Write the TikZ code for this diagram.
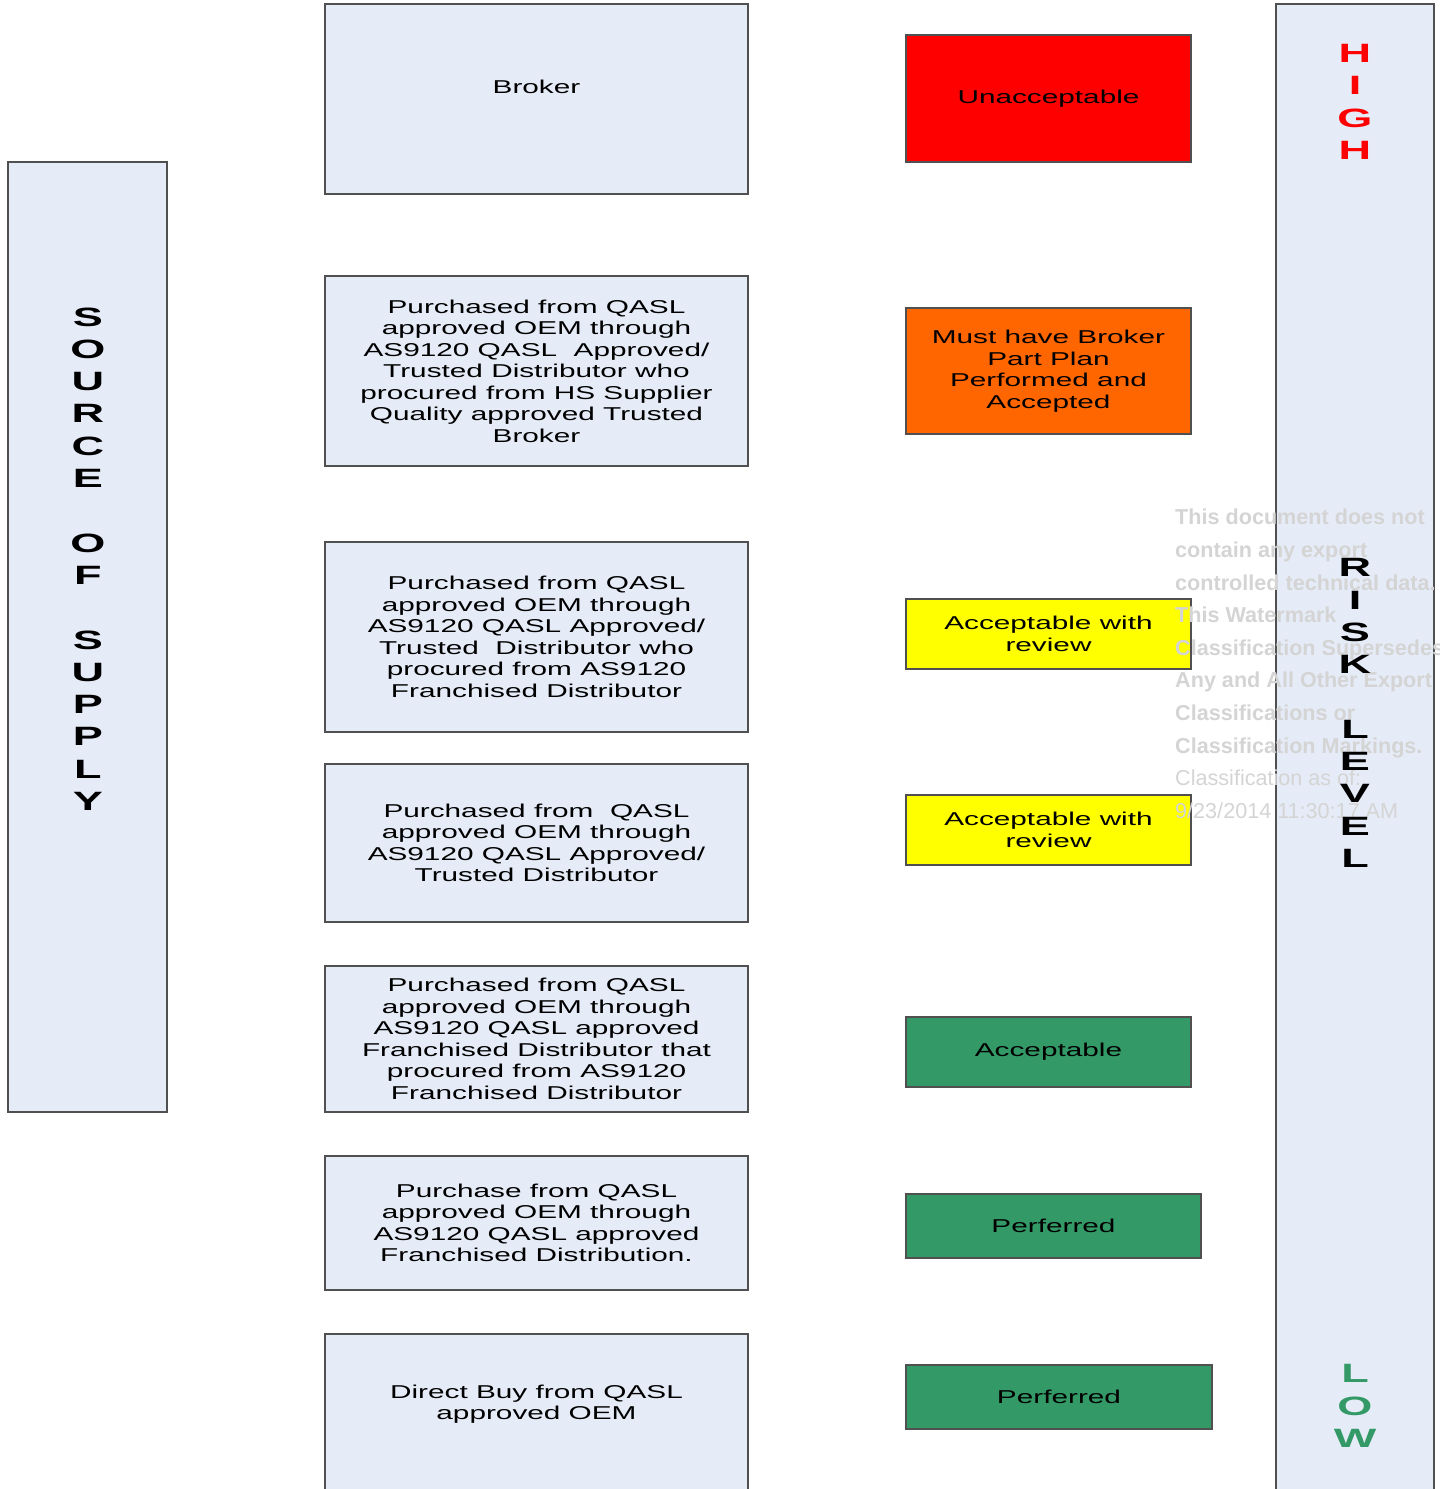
\documentclass[tikz,border=0pt]{standalone}
\usepackage{fontspec}
\setmainfont{Liberation Sans}[FakeStretch=1.6]
\newfontfamily\wmfont{Liberation Sans}
\newfontfamily\tallfont{Liberation Sans}[FakeStretch=1.7]

\definecolor{boxfill}{RGB}{230,236,247}
\definecolor{boxline}{RGB}{80,80,80}
\definecolor{riskred}{RGB}{255,0,0}
\definecolor{riskorange}{RGB}{255,102,0}
\definecolor{riskyellow}{RGB}{255,255,0}
\definecolor{riskgreen}{RGB}{51,153,102}
\definecolor{wmgray}{RGB}{212,212,212}

\tikzset{
  panel/.style={draw=boxline, fill=boxfill, line width=1.2pt, inner sep=0pt},
  sourcebox/.style={panel, minimum width=423pt, align=center,
    font=\fontsize{18.6pt}{21.5pt}\selectfont},
  ratingbox/.style={draw=boxline, line width=1.2pt, inner sep=0pt,
    minimum width=285pt, align=center, font=\fontsize{18.6pt}{21.5pt}\selectfont},
  tallword/.style={align=center, inner sep=0pt,
    font=\tallfont\fontsize{26.5pt}{32.3pt}\selectfont\bfseries},
}

\begin{document}
\begin{tikzpicture}[x=1pt, y=-1pt]
    \useasboundingbox (0,0) rectangle (1440,1489);
    \clip (0,0) rectangle (1440,1489);

    % Side bars
    \node[panel, minimum width=159pt, minimum height=950pt] (supply) at (87.5,637) {};
    \node[panel, minimum width=158pt, minimum height=1500pt] (risk) at (1355,754) {};

    % Sources of supply
    \node[sourcebox, minimum height=190pt] (broker) at (536.5,99) {\raisebox{24pt}{Broker}};
    \node[sourcebox, minimum height=190pt] (trustedbroker) at (536.5,371) {Purchased from QASL\\approved OEM through\\AS9120 QASL~ Approved/\\Trusted Distributor who\\procured from HS Supplier\\Quality approved Trusted\\Broker};
    \node[sourcebox, minimum height=190pt] (viafranchised) at (536.5,637) {Purchased from QASL\\approved OEM through\\AS9120 QASL Approved/\\Trusted~ Distributor who\\procured from AS9120\\Franchised Distributor};
    \node[sourcebox, minimum height=158pt] (trusted) at (536.5,843) {Purchased from~ QASL\\approved OEM through\\AS9120 QASL Approved/\\Trusted Distributor};
    \node[sourcebox, minimum height=146pt] (franchisedvia) at (536.5,1039) {Purchased from QASL\\approved OEM through\\AS9120 QASL approved\\Franchised Distributor that\\procured from AS9120\\Franchised Distributor};
    \node[sourcebox, minimum height=134pt] (franchised) at (536.5,1223) {Purchase from QASL\\approved OEM through\\AS9120 QASL approved\\Franchised Distribution.};
    \node[sourcebox, minimum height=170pt] (direct) at (536.5,1419) {\raisebox{46pt}{\begin{tabular}{@{}c@{}}Direct Buy from QASL\\approved OEM\end{tabular}}};

    % Ratings
    \node[ratingbox, fill=riskred, minimum height=127pt] (unacc) at (1048.5,98.5) {Unacceptable};
    \node[ratingbox, fill=riskorange, minimum height=126pt] (plan) at (1048.5,371) {Must have Broker\\Part Plan\\Performed and\\Accepted};
    \node[ratingbox, fill=riskyellow, minimum height=70pt] (review1) at (1048.5,634) {Acceptable with\\review};
    \node[ratingbox, fill=riskyellow, minimum height=70pt] (review2) at (1048.5,830) {Acceptable with\\review};
    \node[ratingbox, fill=riskgreen, minimum height=70pt] (acc) at (1048.5,1052) {Acceptable};
    \node[ratingbox, fill=riskgreen, minimum width=295pt, minimum height=64pt] (pref1) at (1053.5,1226) {Perferred};
    \node[ratingbox, fill=riskgreen, minimum width=306pt, minimum height=64pt] (pref2) at (1059,1397) {Perferred};

    % Watermark
    \node[anchor=north west, inner sep=0pt, align=left, text=wmgray,
          font=\wmfont\fontsize{21.6pt}{32.6pt}\selectfont\bfseries] (mark) at (1175,509)
      {This document does not\\contain any export\\controlled technical data.\\This Watermark\\Classification Supersedes\\Any and All Other Export\\Classifications or\\Classification Markings.\\\mdseries Classification as of:\\\mdseries 9/23/2014 11:30:17 AM};

    % Vertical titles
    \node[tallword] (sourcetitle) at (88,559) {S\\O\\U\\R\\C\\E\\~\\O\\F\\~\\S\\U\\P\\P\\L\\Y};
    \node[tallword, text=riskred] (high) at (1355,102) {H\\I\\G\\H};
    \node[tallword] (risktitle) at (1355,713) {R\\I\\S\\K\\~\\L\\E\\V\\E\\L};
    \node[tallword, text=riskgreen] (low) at (1355,1406) {L\\O\\W};
\end{tikzpicture}
\end{document}
